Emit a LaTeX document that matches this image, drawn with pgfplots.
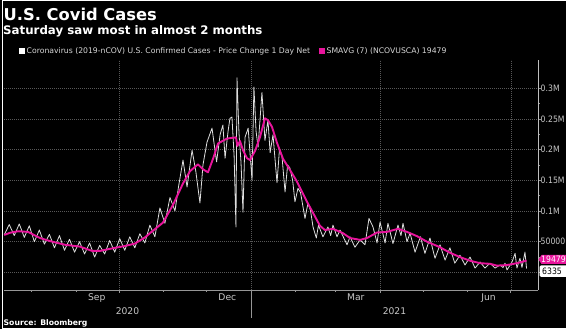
\documentclass[border=0pt]{standalone}
\usepackage{fontspec}
\setmainfont{DejaVu Sans}
\newfontfamily\tickfont[FakeStretch=0.88]{DejaVu Sans}
\usepackage{pgfplots}
\pgfplotsset{compat=1.18}
\definecolor{mag}{RGB}{232,20,156}
\definecolor{wline}{RGB}{222,222,222}
\definecolor{gridc}{RGB}{88,88,88}
\definecolor{axc}{RGB}{150,150,150}
\definecolor{raxc}{RGB}{190,190,190}
\definecolor{lblc}{RGB}{200,200,200}
\definecolor{lgc}{RGB}{215,215,215}
\begin{document}
\begin{tikzpicture}
\useasboundingbox (0pt,0pt) rectangle (566pt,329pt);
\fill[black] (0pt,0pt) rectangle (566pt,329pt);
\begin{axis}[
  at={(4pt,39pt)}, anchor=south west,
  scale only axis, width=534pt, height=230pt,
  xmin=11.85, xmax=383.97, ymin=-28670, ymax=346000,
  axis x line*=bottom, axis y line*=right,
  x axis line style={draw=axc, line width=0.7pt},
  y axis line style={draw=raxc, line width=0.7pt},
  tick align=outside,
  major tick length=3pt, minor tick length=2pt,
  tick style={draw=axc, line width=0.6pt},
  xtick={92,184,274,365}, xticklabels={,,,},
  minor xtick={31,62,123,153,215,243,304,335},
  extra x ticks={76.5,167.5,257,349.5},
  extra x tick labels={Sep,Dec,Mar,Jun},
  extra x tick style={grid=none, major tick length=0pt},
  xmajorgrids=true, ymajorgrids=true,
  major grid style={draw=gridc, dash pattern=on 1pt off 1pt, line width=0.5pt},
  ytick={0,50000,100000,150000,200000,250000,300000},
  yticklabels={,50000,0.1M,0.15M,0.2M,0.25M,0.3M},
  minor ytick={25000,75000,125000,175000,225000,275000},
  scaled y ticks=false, scaled x ticks=false,
  xticklabel style={font=\fontsize{9.2}{10}\selectfont, text=lblc, inner sep=0pt, anchor=north, yshift=-3.5pt},
  yticklabel style={font=\tickfont\fontsize{8.8}{10}\selectfont, text=lblc, inner sep=0pt, anchor=west, xshift=-0.5pt},
  clip=true,
]
\addplot[wline, line width=0.8pt, line join=round] coordinates {
(12,61000) (15.5,78000) (19,60000) (22.5,79000) (26,57000) (29.5,76000)
(33,50000) (36.5,69000) (40,46000) (43.5,62000) (47,40000) (50.5,60000)
(54,36000) (57.5,54000) (61,33000) (64.5,50000) (68,30000) (71.5,48000)
(75,25000) (78.5,44000) (82,30000) (85.5,52000) (89,33000) (92.5,55000)
(96,36000) (99.5,58000) (103,40000) (106.5,63000) (110,48000) (113.5,77000)
(117,58000) (120.5,105000) (124,80000) (127.5,122000) (131,100000) (133.5,140000)
(136.6,183000) (139.4,139000) (142.9,199000) (145.5,165000) (148.4,113000) (150.5,175000)
(153.3,212000) (156.8,235000) (160,180000) (162.5,225000) (164.4,240000) (165.9,186000)
(168,230000) (169.3,251000) (170.7,253000) (172.2,190000) (173.5,74000) (174.2,317000)
(175.6,227000) (177,180000) (178.4,98000) (179.8,220000) (182,235000) (184.7,150000)
(186,302000) (187.5,230000) (188.9,204000) (191.6,293000) (193.7,215000) (195.8,248000)
(197.3,195000) (199.3,224000) (202.1,146000) (203.8,200000) (205.6,188000) (207.7,131000)
(209.5,175000) (211.1,170000) (213,150000) (214.6,115000) (216.7,137000) (218.5,130000)
(221.6,88000) (223.7,113000) (225.5,100000) (227.2,74000) (229.5,56000) (231,77000)
(234.1,58000) (237.6,74000) (239.5,60000) (241.1,77000) (243.9,58000) (246,69000)
(250.9,45000) (253,58000) (256.4,41000) (260,53000) (263.4,45000) (266.2,88000)
(269,74000) (271.8,48000) (273.9,82000) (277.4,48000) (279.4,80000) (282.9,47000)
(286.4,77000) (288.5,60000) (289.9,80000) (292.7,50000) (294.8,64000) (298.3,33000)
(302,58000) (305.2,31000) (308.7,56000) (312.2,23000) (315.7,45000) (319.2,20000)
(322.6,40000) (326,15000) (329.6,28000) (333.1,12000) (336.6,25000) (340.1,7000)
(343.6,17000) (347,7000) (350.5,15000) (354,7000) (357.5,12000) (359.6,8000)
(361,15000) (362.4,4000) (365.9,17000) (368,31000) (369.3,7000) (371.4,23000)
(372.8,8000) (374.9,33000) (376,6335)
};
\addplot[mag, line width=1.9pt, line join=round] coordinates {
(12,61000) (16,64500) (21.6,67000) (28.6,66000) (36.9,56000) (43.9,51000)
(54.4,45000) (64.8,42000) (73.2,35000) (78.7,35000) (89.2,40000) (96.2,43000)
(103.1,47000) (110.1,57000) (113.6,64000) (122.6,81000) (129.6,110000) (136.6,145000)
(141.5,165000) (147,176000) (150.5,168000) (154,163000) (157.5,185000) (161,210000)
(167.2,218000) (173.5,220000) (174.5,206000) (176.3,214000) (178.4,199000) (181.2,186000)
(183.3,183000) (186.8,198000) (190.2,220000) (193.7,251000) (195.8,248000) (198.6,237000)
(202.1,211000) (206.3,185000) (211.1,167000) (216,148000) (223,115000) (227.2,97000)
(232,76000) (235.5,69000) (241,71000) (248,64000) (253,56000) (260,53000)
(264.8,56000) (271.8,65000) (278.7,66000) (286.4,71000) (292.7,66000) (299.7,59000)
(306.6,50000) (315.7,41000) (322.6,32000) (329.6,25000) (336.6,19000) (343.6,15000)
(350.5,14000) (355.4,11000) (362.4,12000) (369.3,15000) (374.9,18500) (376,19479)
};
\end{axis}
% year row
\draw[axc, line width=0.6pt] (251pt,37pt) -- (251pt,11pt);
\node[anchor=base, inner sep=0pt, text=lblc, font=\fontsize{9.2}{10}\selectfont] at (127.5pt,14pt) {2020};
\node[anchor=base, inner sep=0pt, text=lblc, font=\fontsize{9.2}{10}\selectfont] at (394.5pt,14pt) {2021};
% value tags
\fill[mag] (538.5pt,69.5pt) -- (541.5pt,74pt) -- (567pt,74pt) -- (567pt,65pt) -- (541.5pt,65pt) -- cycle;
\node[anchor=base west, inner sep=0pt, text=white, font=\tickfont\fontsize{8.8}{10}\selectfont] at (541pt,66.3pt) {19479};
\fill[white, rounded corners=1.5pt] (539.5pt,52pt) rectangle (570pt,63.5pt);
\node[anchor=base west, inner sep=0pt, text=black, font=\tickfont\fontsize{8.8}{10}\selectfont] at (542pt,54.3pt) {6335};
% titles
\node[anchor=base west, inner sep=0pt, text=white, font=\bfseries\fontsize{16.3}{18}\selectfont] at (3.5pt,308pt) {U.S. Covid Cases};
\node[anchor=base west, inner sep=0pt, text=white, font=\bfseries\fontsize{11.8}{13}\selectfont] at (3pt,294pt) {Saturday saw most in almost 2 months};
% legend
\fill[white] (19pt,275pt) rectangle (25pt,281pt);
\node[anchor=west, inner sep=0pt, text=lgc, font=\fontsize{7.7}{9}\selectfont] at (26.5pt,278pt) {Coronavirus (2019-nCOV) U.S. Confirmed Cases - Price Change 1 Day Net};
\fill[mag] (319pt,275pt) rectangle (325pt,281pt);
\node[anchor=west, inner sep=0pt, text=lgc, font=\fontsize{7.7}{9}\selectfont] at (326.5pt,278pt) {SMAVG (7) (NCOVUSCA) 19479};
% source
\node[anchor=base west, inner sep=0pt, text=white, font=\bfseries\fontsize{7.7}{9}\selectfont] at (3.5pt,3.5pt) {Source: Bloomberg};
% frame
\draw[white, line width=1.2pt] (2.5pt,-1pt) -- (2.5pt,328.2pt) -- (568pt,328.2pt);
\draw[white, line width=1.2pt] (2.5pt,0.6pt) -- (568pt,0.6pt);
\end{tikzpicture}
\end{document}
